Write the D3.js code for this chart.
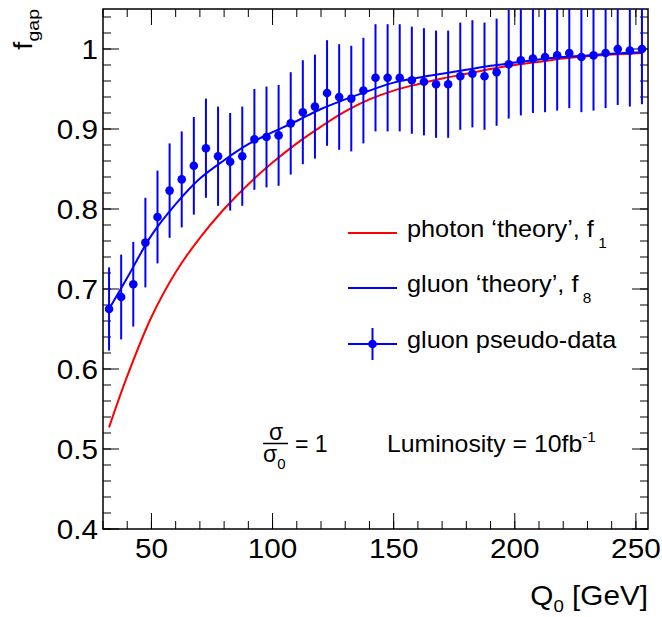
<!DOCTYPE html>
<html>
<head>
<meta charset="utf-8">
<script src="https://cdn.jsdelivr.net/npm/d3@7"></script>
<style>
  body { margin: 0; background: #fff; }
  text { font-family: "Liberation Sans", Arial, Helvetica, sans-serif; fill: #000; }
</style>
</head>
<body>
<div id="chart"></div>
<script>
// pseudo-data points (Q0 in GeV)
var dataQ = [32.5, 37.5, 42.5, 47.5, 52.5, 57.5, 62.5, 67.5, 72.5, 77.5,
  82.5, 87.5, 92.5, 97.5, 102.5, 107.5, 112.5, 117.5, 122.5, 127.5,
  132.5, 137.5, 142.5, 147.5, 152.5, 157.5, 162.5, 167.5, 172.5, 177.5,
  182.5, 187.5, 192.5, 197.5, 202.5, 207.5, 212.5, 217.5, 222.5, 227.5,
  232.5, 237.5, 242.5, 247.5, 252.5];
var dataF = [0.675, 0.690, 0.706, 0.758, 0.790, 0.823, 0.837, 0.854, 0.876, 0.866,
  0.859, 0.866, 0.887, 0.890, 0.892, 0.907, 0.921, 0.928, 0.945, 0.940,
  0.938, 0.948, 0.964, 0.964, 0.964, 0.961, 0.959, 0.956, 0.956, 0.966,
  0.969, 0.966, 0.971, 0.981, 0.986, 0.988, 0.990, 0.992, 0.995, 0.990,
  0.992, 0.995, 1.000, 0.998, 1.000];
var dataErr = [0.052, 0.053, 0.053, 0.056, 0.058, 0.059, 0.060, 0.061, 0.062, 0.062,
  0.061, 0.062, 0.063, 0.063, 0.063, 0.064, 0.065, 0.065, 0.066, 0.066,
  0.066, 0.066, 0.067, 0.067, 0.067, 0.067, 0.067, 0.067, 0.067, 0.067,
  0.067, 0.067, 0.067, 0.068, 0.069, 0.068, 0.069, 0.069, 0.069, 0.069,
  0.069, 0.069, 0.070, 0.070, 0.069];

// theory curves
var theoryQ = [32.5, 40, 50, 60, 70, 80, 90, 100, 110, 120, 130, 140,
  150, 160, 170, 180, 190, 200, 210, 220, 230, 240, 252.5];
var photonF1 = [0.527, 0.591, 0.665, 0.721, 0.764, 0.800, 0.831, 0.858, 0.882, 0.903, 0.922, 0.937,
  0.948, 0.956, 0.963, 0.969, 0.975, 0.980, 0.984, 0.988, 0.991, 0.993, 0.995];
var gluonF8 = [0.675, 0.714, 0.767, 0.806, 0.838, 0.861, 0.881, 0.896, 0.910, 0.925, 0.937, 0.948,
  0.958, 0.964, 0.969, 0.974, 0.979, 0.983, 0.987, 0.990, 0.992, 0.994, 0.996];

var xTicks = [50, 100, 150, 200, 250];
var yTicks = [0.4, 0.5, 0.6, 0.7, 0.8, 0.9, 1];
var yTickLabels = ["0.4", "0.5", "0.6", "0.7", "0.8", "0.9", "1"];

var canvasW = 662, canvasH = 617;
var margin = {top: 9, right: 14, bottom: 88, left: 103};
var width = canvasW - margin.left - margin.right,
    height = canvasH - margin.top - margin.bottom;
var SX = 1.1; // the original's text is drawn a little wide

var svg = d3.select("#chart").append("svg")
  .attr("width", canvasW)
  .attr("height", canvasH);

var g = svg.append("g").attr("transform", "translate(" + margin.left + "," + margin.top + ")");

var x = d3.scaleLinear().domain([30, 255]).range([0, width]),
    y = d3.scaleLinear().domain([0.4, 1.05]).range([height, 0]);

svg.append("defs").append("clipPath").attr("id", "frameClip")
  .append("rect").attr("width", width).attr("height", height);

function label(parent, px, py, size, anchor, sx) {
  return parent.append("text")
    .attr("transform", "translate(" + px + "," + py + ") scale(" + (sx || SX) + ",1)")
    .attr("text-anchor", anchor || "start")
    .style("font-size", size + "px");
}

// ticks, ROOT style: on all four sides, pointing inward
var minorX = d3.range(30, 256, 10);
var minorY = d3.range(0.4, 1.051, 0.02);

function drawTicks(sel, vals, len, horiz, at, dir) {
  sel.selectAll(null).data(vals).enter().append("line")
    .attr("x1", function(d) { return horiz ? x(d) : at; })
    .attr("x2", function(d) { return horiz ? x(d) : at + dir * len; })
    .attr("y1", function(d) { return horiz ? at : y(d); })
    .attr("y2", function(d) { return horiz ? at + dir * len : y(d); })
    .attr("stroke", "#000").attr("stroke-width", 1);
}
var ticks = g.append("g");
drawTicks(ticks, minorX, 8, true, height, -1);
drawTicks(ticks, xTicks, 16, true, height, -1);
drawTicks(ticks, minorX, 8, true, 0, 1);
drawTicks(ticks, xTicks, 16, true, 0, 1);
drawTicks(ticks, minorY, 8, false, 0, 1);
drawTicks(ticks, yTicks, 16, false, 0, 1);
drawTicks(ticks, minorY, 8, false, width, -1);
drawTicks(ticks, yTicks, 16, false, width, -1);

g.append("rect")
  .attr("width", width).attr("height", height)
  .attr("fill", "none").attr("stroke", "#000").attr("stroke-width", 1.5);

// tick labels
xTicks.forEach(function(d) {
  label(g, x(d), height + 29, 27, "middle").text(d);
});
yTicks.forEach(function(d, i) {
  label(g, -5, y(d) + 10, 27, "end").text(yTickLabels[i]);
});

// axis titles
var xt = label(svg, 648, 605, 27, "end");
xt.append("tspan").text("Q");
xt.append("tspan").attr("dy", 7).style("font-size", "17px").text("0");
xt.append("tspan").attr("dy", -7).text(" [GeV]");

var yt = svg.append("text")
  .attr("transform", "translate(32,9) rotate(-90) scale(1.15,1)")
  .attr("text-anchor", "end")
  .style("font-size", "26px");
yt.append("tspan").text("f");
yt.append("tspan").attr("dy", 7).style("font-size", "17px").text("gap");

// curves
var plot = g.append("g").attr("clip-path", "url(#frameClip)");

var line = d3.line()
  .curve(d3.curveCatmullRom)
  .x(function(d) { return x(d[0]); })
  .y(function(d) { return y(d[1]); });

plot.append("path")
  .attr("d", line(d3.zip(theoryQ, photonF1)))
  .attr("fill", "none").attr("stroke", "#ff0000").attr("stroke-width", 2);

plot.append("path")
  .attr("d", line(d3.zip(theoryQ, gluonF8)))
  .attr("fill", "none").attr("stroke", "#0000ff").attr("stroke-width", 2);

// pseudo-data with error bars
var pts = d3.range(dataQ.length);
plot.selectAll(".err").data(pts).enter().append("line")
  .attr("x1", function(i) { return x(dataQ[i]); })
  .attr("x2", function(i) { return x(dataQ[i]); })
  .attr("y1", function(i) { return y(dataF[i] - dataErr[i]); })
  .attr("y2", function(i) { return y(dataF[i] + dataErr[i]); })
  .attr("stroke", "#0000ff").attr("stroke-width", 2);

plot.selectAll(".pt").data(pts).enter().append("circle")
  .attr("cx", function(i) { return x(dataQ[i]); })
  .attr("cy", function(i) { return y(dataF[i]); })
  .attr("r", 4.3)
  .attr("fill", "#0000ff");

// legend
var legend = svg.append("g");
var legItems = [
  {txt: "photon \u2018theory\u2019, f", sub: "1", col: "#ff0000", y: 233},
  {txt: "gluon \u2018theory\u2019, f", sub: "8", col: "#0000ff", y: 288},
  {txt: "gluon pseudo-data", sub: null, col: "#0000ff", y: 344}
];
legItems.forEach(function(d, i) {
  legend.append("line")
    .attr("x1", 348).attr("x2", 397).attr("y1", d.y).attr("y2", d.y)
    .attr("stroke", d.col).attr("stroke-width", 2);
  if (i == 2) {
    legend.append("line")
      .attr("x1", 372.5).attr("x2", 372.5).attr("y1", d.y - 16).attr("y2", d.y + 16)
      .attr("stroke", d.col).attr("stroke-width", 2);
    legend.append("circle").attr("cx", 372.5).attr("cy", d.y).attr("r", 4.3).attr("fill", d.col);
  }
  var t = label(legend, 407, d.y + 4, 23);
  t.append("tspan").text(d.txt);
  if (d.sub) t.append("tspan").attr("dx", 4).attr("dy", 11).style("font-size", "14px").text(d.sub);
});

// annotations
label(svg, 276, 440, 23, "middle", 1).text("\u03c3");
svg.append("line").attr("x1", 263).attr("x2", 288).attr("y1", 443.5).attr("y2", 443.5)
  .attr("stroke", "#000").attr("stroke-width", 1.5);
var den = label(svg, 263, 462, 23, "start", 1);
den.append("tspan").text("\u03c3");
den.append("tspan").attr("dy", 7).style("font-size", "15px").text("0");
label(svg, 295, 452, 23, "start", 1).text("= 1");

var lum = label(svg, 387, 452, 23, "start", 1.08);
lum.append("tspan").text("Luminosity = 10fb");
lum.append("tspan").attr("dy", -10).style("font-size", "14px").text("-1");
</script>
</body>
</html>
